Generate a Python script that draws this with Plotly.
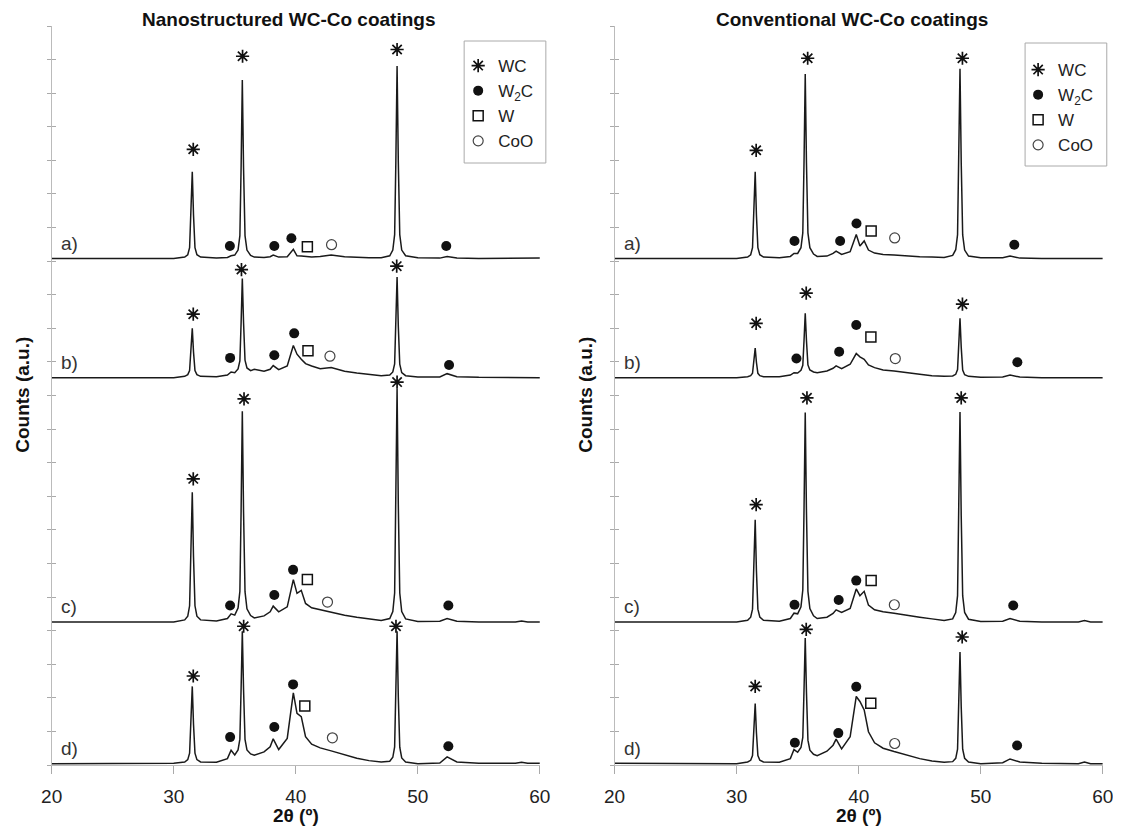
import plotly.graph_objects as go

# ---------------- data ----------------
two_theta = [20, 25, 30,
             30.9, 31.15, 31.3, 31.42, 31.52, 31.62, 31.74, 31.9, 32.2,
             33.5, 34.4, 34.7,
             35.0, 35.27, 35.42, 35.52, 35.62, 35.72, 35.84, 36.0, 36.3,
             36.6, 37.4, 37.9, 38.15, 38.6, 39.3, 39.8, 40.1, 40.45, 40.8, 41.3, 42.0,
             42.9, 44.0, 45.0, 46.0, 47.0,
             47.7, 47.95, 48.1, 48.2, 48.3, 48.4, 48.52, 48.68, 49.0,
             50.0, 51.8, 52.4, 53.2, 55.0, 58.0, 58.5, 59.0, 60.0]

# relative intensities (a.u.) of each pattern, nanostructured coatings
nano_a = [0, 0.01, 0,
          0.04, 0.11, 0.32, 1.30, 2.58, 1.30, 0.32, 0.11, 0.04,
          0.01, 0.03, 0.08,
          0.10, 0.25, 0.68, 2.70, 5.31, 2.70, 0.68, 0.25, 0.09,
          0.04, 0.03, 0.05, 0.1, 0.04, 0.05, 0.27, 0.08, 0.07, 0.05, 0.04, 0.06,
          0.1, 0.05, 0.03, 0.02, 0.02,
          0.08, 0.25, 0.71, 2.89, 5.73, 2.89, 0.71, 0.25, 0.08,
          0.02, 0.01, 0.06, 0.01, 0, 0, 0.02, 0, 0.01]
nano_b = [0, 0, 0,
          0.04, 0.09, 0.21, 0.77, 1.47, 0.77, 0.21, 0.09, 0.04,
          0.03, 0.08, 0.17,
          0.15, 0.26, 0.50, 1.63, 2.95, 1.65, 0.52, 0.29, 0.21,
          0.25, 0.19, 0.25, 0.36, 0.24, 0.35, 0.96, 0.7, 0.55, 0.42, 0.35, 0.27,
          0.3, 0.19, 0.14, 0.1, 0.06,
          0.08, 0.17, 0.41, 1.55, 3.0, 1.54, 0.40, 0.15, 0.06,
          0.02, 0.02, 0.12, 0.03, 0.01, 0, 0.02, 0, 0]
nano_c = [0, 0, 0,
          0.06, 0.17, 0.48, 1.95, 3.86, 1.95, 0.48, 0.17, 0.06,
          0.03, 0.1, 0.24,
          0.2, 0.41, 0.91, 3.30, 6.27, 3.29, 0.9, 0.39, 0.19,
          0.12, 0.18, 0.3, 0.47, 0.3, 0.45, 1.26, 0.85, 0.94, 0.55, 0.42, 0.36,
          0.29, 0.2, 0.14, 0.08, 0.04,
          0.10, 0.31, 0.86, 3.50, 6.94, 3.50, 0.86, 0.31, 0.09,
          0.01, 0.02, 0.1, 0.02, 0, 0, 0.03, 0, 0]
nano_d = [0, 0, 0.01,
          0.05, 0.12, 0.31, 1.18, 2.3, 1.18, 0.31, 0.12, 0.05,
          0.04, 0.15, 0.4,
          0.26, 0.41, 0.73, 2.23, 3.94, 2.22, 0.72, 0.41, 0.29,
          0.25, 0.35, 0.5, 0.74, 0.42, 0.75, 2.11, 1.5, 1.4, 0.8, 0.58, 0.47,
          0.38, 0.26, 0.16, 0.09, 0.05,
          0.07, 0.19, 0.5, 2.0, 3.94, 2.0, 0.49, 0.17, 0.05,
          0.0, 0.02, 0.2, 0.05, 0.01, 0.01, 0.04, 0.01, 0.01]

# relative intensities (a.u.), conventional coatings
conv_a = [0, 0, 0,
          0.04, 0.11, 0.32, 1.30, 2.58, 1.30, 0.32, 0.11, 0.04,
          0.02, 0.06, 0.15,
          0.15, 0.32, 0.76, 2.85, 5.49, 2.85, 0.76, 0.32, 0.13,
          0.06, 0.07, 0.15, 0.22, 0.12, 0.2, 0.71, 0.37, 0.52, 0.25, 0.16, 0.12,
          0.1, 0.07, 0.05, 0.04, 0.03,
          0.09, 0.26, 0.71, 2.86, 5.65, 2.86, 0.7, 0.25, 0.07,
          0.02, 0.02, 0.07, 0.01, 0, 0, 0.02, 0, 0]
conv_b = [0, 0, 0,
          0.03, 0.06, 0.13, 0.46, 0.88, 0.46, 0.13, 0.06, 0.03,
          0.03, 0.08, 0.15,
          0.14, 0.22, 0.37, 1.10, 1.92, 1.11, 0.38, 0.23, 0.17,
          0.15, 0.2, 0.28, 0.35, 0.27, 0.4, 0.72, 0.62, 0.55, 0.38, 0.3, 0.23,
          0.2, 0.14, 0.1, 0.06, 0.04,
          0.05, 0.1, 0.24, 0.92, 1.77, 0.91, 0.23, 0.09, 0.04,
          0.01, 0.02, 0.08, 0.02, 0, 0, 0.02, 0, 0]
conv_c = [0, 0, 0,
          0.05, 0.14, 0.38, 1.54, 3.04, 1.54, 0.38, 0.14, 0.05,
          0.02, 0.1, 0.26,
          0.24, 0.45, 0.95, 3.32, 6.23, 3.28, 0.91, 0.4, 0.18,
          0.1, 0.14, 0.25, 0.36, 0.28, 0.4, 0.98, 0.78, 0.91, 0.5, 0.36, 0.3,
          0.26, 0.19, 0.14, 0.09, 0.04,
          0.09, 0.28, 0.78, 3.16, 6.25, 3.16, 0.78, 0.28, 0.08,
          0.01, 0.02, 0.1, 0.02, 0, 0, 0.04, 0, 0]
conv_d = [0.01, 0, 0,
          0.05, 0.1, 0.24, 0.93, 1.79, 0.93, 0.24, 0.1, 0.05,
          0.04, 0.15, 0.42,
          0.34, 0.48, 0.78, 2.19, 3.74, 2.13, 0.7, 0.4, 0.28,
          0.24, 0.37, 0.55, 0.73, 0.44, 0.8, 2.0, 1.85, 1.6, 0.95, 0.62, 0.46,
          0.36, 0.25, 0.15, 0.08, 0.04,
          0.06, 0.16, 0.43, 1.69, 3.32, 1.69, 0.43, 0.16, 0.05,
          0.0, 0.03, 0.14, 0.05, 0.01, 0.0, 0.05, 0, 0]

pattern_labels = ["a)", "b)", "c)", "d)"]
stack_offsets = [15.08, 11.53, 4.26, 0.04]

# phase identification marks: (pattern index, 2theta, relative height)
nano_wc = [(0, 31.6, 3.25), (0, 35.64, 6.02), (0, 48.3, 6.22),
           (1, 31.6, 1.89), (1, 35.55, 3.22), (1, 48.27, 3.32),
           (2, 31.6, 4.26), (2, 35.76, 6.64), (2, 48.3, 7.14),
           (3, 31.6, 2.61), (3, 35.73, 4.09), (3, 48.21, 4.09)]
nano_w2c = [(0, 34.6, 0.37), (0, 38.24, 0.37), (0, 39.64, 0.6), (0, 52.33, 0.37),
            (1, 34.62, 0.59), (1, 38.24, 0.67), (1, 39.87, 1.32), (1, 52.56, 0.38),
            (2, 34.62, 0.49), (2, 38.24, 0.8), (2, 39.78, 1.55), (2, 52.5, 0.49),
            (3, 34.62, 0.79), (3, 38.24, 1.09), (3, 39.78, 2.36), (3, 52.5, 0.52)]
nano_w = [(0, 40.95, 0.35), (1, 41.0, 0.8), (2, 40.95, 1.26), (3, 40.74, 1.72)]
nano_coo = [(0, 42.93, 0.41), (1, 42.8, 0.64), (2, 42.6, 0.59), (3, 43.0, 0.77)]

conv_wc = [(0, 31.6, 3.22), (0, 35.82, 5.96), (0, 48.5, 5.96),
           (1, 31.6, 1.62), (1, 35.7, 2.52), (1, 48.5, 2.19),
           (2, 31.6, 3.49), (2, 35.76, 6.67), (2, 48.4, 6.67),
           (3, 31.52, 2.3), (3, 35.7, 4.0), (3, 48.48, 3.77)]
conv_w2c = [(0, 34.74, 0.52), (0, 38.48, 0.52), (0, 39.82, 1.04), (0, 52.75, 0.41),
            (1, 34.9, 0.57), (1, 38.4, 0.77), (1, 39.8, 1.57), (1, 53.0, 0.46),
            (2, 34.74, 0.51), (2, 38.36, 0.65), (2, 39.8, 1.23), (2, 52.66, 0.49),
            (3, 34.77, 0.62), (3, 38.33, 0.91), (3, 39.8, 2.29), (3, 52.98, 0.54)]
conv_w = [(0, 41.02, 0.82), (1, 41.0, 1.21), (2, 41.02, 1.23), (3, 40.99, 1.8)]
conv_coo = [(0, 42.95, 0.61), (1, 43.0, 0.57), (2, 42.92, 0.51), (3, 42.95, 0.6)]

x_ticks = [20, 30, 40, 50, 60]

for arr in (nano_a, nano_b, nano_c, nano_d, conv_a, conv_b, conv_c, conv_d):
    assert len(arr) == len(two_theta)

# ---------------- figure ----------------
W, H = 1121, 823
# measured mapping from figure pixels to picture pixels in the viewer
SX, OX, OY = 0.984, 16.2, 8.0
FONT = "Liberation Sans, Arial, sans-serif"
LINE = "#1a1a1a"


def fx(p):  # picture pixel -> paper x
    return ((p - OX) / SX) / W


def fy(p):  # picture pixel -> paper y
    return 1 - (p - OY) / H


fig = go.Figure()

panels = [
    dict(xa="x", ya="y", legend="legend", series=[nano_a, nano_b, nano_c, nano_d],
         marks=[nano_wc, nano_w2c, nano_w, nano_coo]),
    dict(xa="x2", ya="y2", legend="legend2", series=[conv_a, conv_b, conv_c, conv_d],
         marks=[conv_wc, conv_w2c, conv_w, conv_coo]),
]

phase_names = ["WC", "W<sub>2</sub>C", "W", "CoO"]
phase_markers = [
    dict(symbol="asterisk-open", size=11, color="#111", line=dict(width=1.7, color="#111")),
    dict(symbol="circle", size=10, color="#111", line=dict(width=0)),
    dict(symbol="square-open", size=10, color="#111", line=dict(width=1.5, color="#111")),
    dict(symbol="circle-open", size=10, color="#444", line=dict(width=1.2, color="#444")),
]

for p in panels:
    for i, ys in enumerate(p["series"]):
        off = stack_offsets[i]
        fig.add_trace(go.Scatter(
            x=two_theta, y=[v + off for v in ys], mode="lines",
            line=dict(color=LINE, width=1.5), xaxis=p["xa"], yaxis=p["ya"],
            showlegend=False, hoverinfo="skip"))
    for name, mk, marks in zip(phase_names, phase_markers, p["marks"]):
        fig.add_trace(go.Scatter(
            x=[m[1] for m in marks],
            y=[m[2] + stack_offsets[m[0]] for m in marks],
            mode="markers", marker=mk, name=name,
            xaxis=p["xa"], yaxis=p["ya"], legend=p["legend"], showlegend=True))

# invisible traces for the inner-tick overlay axes
for xa, ya in (("x", "y3"), ("x2", "y4")):
    fig.add_trace(go.Scatter(x=[20], y=[0], mode="markers", marker=dict(opacity=0),
                             xaxis=xa, yaxis=ya, showlegend=False, hoverinfo="skip"))

ydom = [fy(765), fy(26)]
xdom1 = [fx(49), fx(539)]
xdom2 = [fx(614), fx(1104)]

xcommon = dict(range=[20, 60], tickvals=x_ticks, ticks="outside", ticklen=8,
               tickcolor="#aaa", showline=True, linecolor="#bbb", linewidth=1,
               showgrid=False, zeroline=False, ticklabelstandoff=6,
               tickfont=dict(family=FONT, size=19, color="#222"))
ycommon = dict(range=[0, 22], tick0=0, dtick=1, ticks="outside", ticklen=4,
               tickcolor="#aaa", showline=True, linecolor="#bbb", linewidth=1,
               showgrid=False, zeroline=False, showticklabels=False)
yinner = dict(range=[0, 22], tick0=0, dtick=1, ticks="inside", ticklen=4,
              tickcolor="#aaa", showline=False, showgrid=False, zeroline=False,
              showticklabels=False)

legend_common = dict(xanchor="left", yanchor="top", borderwidth=0,
                     bgcolor="rgba(0,0,0,0)", font=dict(family=FONT, size=17, color="#222"),
                     itemwidth=30, tracegroupgap=0)

title_font = dict(family=FONT, size=19, color="#111")
annotations = [
    dict(text="<b>Nanostructured WC-Co coatings</b>", x=fx(287), y=fy(19),
         xref="paper", yref="paper", xanchor="center", yanchor="middle",
         showarrow=False, font=title_font),
    dict(text="<b>Conventional WC-Co coatings</b>", x=fx(852), y=fy(19),
         xref="paper", yref="paper", xanchor="center", yanchor="middle",
         showarrow=False, font=title_font),
    dict(text="<b>Counts (a.u.)</b>", x=fx(20), y=fy(395), xref="paper", yref="paper",
         xanchor="center", yanchor="middle", textangle=-90, showarrow=False,
         font=title_font),
    dict(text="<b>Counts (a.u.)</b>", x=fx(585), y=fy(395), xref="paper", yref="paper",
         xanchor="center", yanchor="middle", textangle=-90, showarrow=False,
         font=title_font),
    dict(text="<b>2θ (º)</b>", x=40, y=fy(815), xref="x", yref="paper",
         xanchor="center", yanchor="middle", showarrow=False, font=title_font),
    dict(text="<b>2θ (º)</b>", x=40, y=fy(815), xref="x2", yref="paper",
         xanchor="center", yanchor="middle", showarrow=False, font=title_font),
]
for xr, yr in (("x", "y"), ("x2", "y2")):
    for lab, off in zip(pattern_labels, stack_offsets):
        annotations.append(dict(text=lab, x=20.6, y=off + 0.45, xref=xr, yref=yr,
                                xanchor="left", yanchor="middle", showarrow=False,
                                font=dict(family=FONT, size=19, color="#333")))

# legend frames
shapes = [
    dict(type="rect", xref="paper", yref="paper", x0=fx(463), x1=fx(545),
         y0=fy(163), y1=fy(41), line=dict(color="#aaa", width=1), fillcolor="white",
         layer="below"),
    dict(type="rect", xref="paper", yref="paper", x0=fx(1026), x1=fx(1108),
         y0=fy(166), y1=fy(43), line=dict(color="#aaa", width=1), fillcolor="white",
         layer="below"),
]

fig.update_layout(
    width=W, height=H, margin=dict(l=0, r=0, t=0, b=0),
    paper_bgcolor="white", plot_bgcolor="rgba(0,0,0,0)",
    xaxis=dict(domain=xdom1, anchor="y", **xcommon),
    yaxis=dict(domain=ydom, anchor="x", **ycommon),
    xaxis2=dict(domain=xdom2, anchor="y2", **xcommon),
    yaxis2=dict(domain=ydom, anchor="x2", **ycommon),
    yaxis3=dict(overlaying="y", anchor="x", side="left", **yinner),
    yaxis4=dict(overlaying="y2", anchor="x2", side="left", **yinner),
    legend=dict(x=fx(457), y=fy(48), **legend_common),
    legend2=dict(x=fx(1019), y=fy(52), **legend_common),
    annotations=annotations,
    shapes=shapes,
)

fig.write_html("out.html")
